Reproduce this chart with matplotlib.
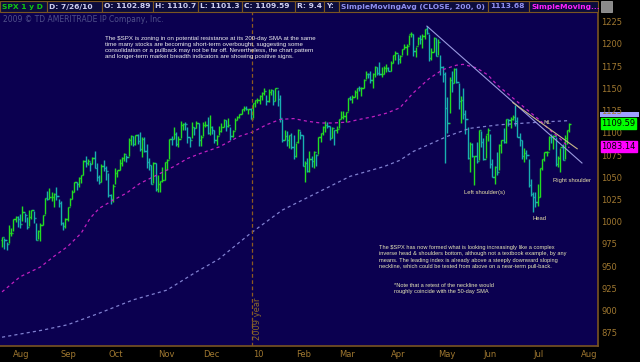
import numpy as np
import matplotlib
matplotlib.use("Agg")
import matplotlib.pyplot as plt
from matplotlib.patches import Rectangle
from matplotlib.transforms import blended_transform_factory

# daily SPX bars, 7/27/09 .. 7/26/10 (one list per month)
close_by_month = [
    [982.2, 979.6, 975.2, 986.8, 987.5],
    [1002.6, 1005.7, 1002.7, 997.1, 1010.5, 1007.1, 994.4, 1005.8, 1012.7, 1004.1, 979.7,
     989.7, 996.5, 1007.4, 1026.1, 1025.6, 1028.0, 1028.1, 1031.0, 1028.9, 1020.6],
    [998.0, 994.8, 1003.2, 1016.4, 1025.4, 1033.4, 1044.1, 1042.7, 1049.3, 1052.6, 1068.8,
     1065.5, 1068.3, 1064.7, 1071.7, 1060.9, 1050.8, 1044.4, 1063.0, 1060.6, 1057.1],
    [1029.9, 1025.2, 1040.5, 1054.7, 1057.6, 1065.5, 1071.5, 1076.2, 1073.2, 1092.0, 1096.6,
     1087.7, 1097.9, 1091.1, 1081.4, 1092.9, 1079.6, 1067.0, 1063.4, 1042.6, 1066.1, 1036.2],
    [1042.9, 1045.4, 1046.5, 1066.6, 1069.3, 1093.1, 1093.0, 1098.5, 1087.2, 1093.5, 1109.3,
     1110.3, 1109.8, 1094.9, 1091.4, 1106.2, 1105.7, 1110.6, 1091.5, 1095.6],
    [1108.9, 1109.2, 1099.9, 1106.0, 1103.3, 1091.9, 1096.0, 1102.4, 1106.4, 1114.1, 1107.9,
     1109.2, 1096.1, 1102.5, 1114.1, 1118.0, 1120.6, 1126.5, 1127.8, 1126.2, 1126.4, 1115.1],
    [1133.0, 1136.5, 1137.1, 1141.7, 1145.0, 1147.0, 1136.2, 1145.7, 1148.5, 1136.0, 1150.2,
     1138.0, 1116.5, 1091.8, 1096.8, 1092.2, 1097.5, 1084.5, 1073.9],
    [1089.2, 1103.3, 1097.3, 1063.1, 1066.2, 1056.7, 1070.5, 1068.1, 1078.5, 1075.5, 1094.9,
     1099.5, 1106.8, 1109.2, 1108.0, 1094.6, 1105.2, 1102.9, 1104.5],
    [1115.7, 1118.3, 1118.8, 1123.0, 1138.7, 1138.5, 1140.5, 1145.6, 1150.2, 1150.0, 1150.5,
     1159.5, 1166.2, 1165.8, 1159.9, 1165.8, 1174.2, 1167.7, 1165.7, 1166.6, 1173.2, 1173.3, 1169.4],
    [1178.1, 1187.4, 1189.4, 1182.5, 1186.4, 1194.4, 1196.5, 1197.3, 1210.7, 1211.7, 1192.1,
     1197.5, 1207.2, 1205.9, 1208.7, 1217.3, 1212.1, 1183.7, 1191.4, 1206.8, 1186.7],
    [1202.3, 1173.6, 1165.9, 1128.2, 1110.9, 1159.7, 1155.8, 1171.7, 1157.4, 1135.7, 1136.9,
     1120.8, 1115.1, 1071.6, 1087.7, 1073.7, 1074.0, 1068.0, 1103.1, 1089.4],
    [1070.7, 1098.4, 1102.8, 1064.9, 1050.5, 1062.0, 1055.7, 1086.8, 1091.6, 1089.6, 1115.2,
     1114.6, 1116.0, 1117.5, 1113.2, 1095.3, 1092.0, 1073.7, 1076.8, 1074.6, 1041.2, 1030.7],
    [1027.4, 1022.6, 1028.1, 1060.3, 1070.3, 1078.0, 1078.8, 1095.3, 1095.2, 1096.5, 1064.9,
     1071.3, 1083.5, 1069.6, 1093.7, 1102.7, 1109.6],
]
high_by_month = [
    [983, 982, 977, 996, 993],
    [1003, 1006, 1006, 1009, 1018, 1010, 1005, 1013, 1013, 1012, 998, 991, 999, 1008, 1027,
     1035, 1038, 1033, 1032, 1039, 1025],
    [1023, 1000, 1004, 1017, 1027, 1036, 1045, 1045, 1050, 1053, 1069, 1074, 1071, 1067, 1073,
     1080, 1066, 1053, 1065, 1069, 1063],
    [1055, 1031, 1042, 1060, 1058, 1071, 1073, 1077, 1075, 1094, 1097, 1096, 1098, 1099, 1101,
     1095, 1095, 1087, 1072, 1064, 1067, 1066],
    [1053, 1046, 1062, 1067, 1071, 1093, 1096, 1106, 1101, 1096, 1113, 1111, 1112, 1106, 1095,
     1112, 1107, 1113, 1111, 1098],
    [1112, 1113, 1118, 1120, 1108, 1103, 1097, 1108, 1111, 1115, 1114, 1117, 1106, 1103, 1117,
     1119, 1121, 1127, 1130, 1130, 1127, 1128],
    [1134, 1137, 1139, 1143, 1146, 1150, 1143, 1149, 1149, 1148, 1150, 1148, 1142, 1115, 1103,
     1102, 1098, 1100, 1097],
    [1089, 1104, 1102, 1097, 1068, 1072, 1080, 1074, 1080, 1076, 1095, 1100, 1108, 1113, 1112,
     1108, 1107, 1103, 1108],
    [1116, 1124, 1125, 1123, 1139, 1141, 1142, 1148, 1150, 1153, 1151, 1161, 1169, 1167, 1170,
     1167, 1175, 1174, 1180, 1174, 1175, 1177, 1174],
    [1181, 1188, 1192, 1189, 1187, 1194, 1200, 1200, 1210, 1213, 1211, 1197, 1208, 1210, 1211,
     1217, 1220, 1211, 1195, 1208, 1207],
    [1205, 1188, 1175, 1168, 1140, 1163, 1170, 1173, 1173, 1156, 1141, 1150, 1126, 1107, 1090,
     1089, 1074, 1090, 1103, 1102],
    [1094, 1098, 1105, 1099, 1070, 1063, 1078, 1087, 1092, 1105, 1115, 1116, 1118, 1120, 1131,
     1118, 1100, 1092, 1083, 1081, 1071, 1048],
    [1033, 1033, 1042, 1060, 1071, 1078, 1080, 1096, 1099, 1097, 1095, 1074, 1083, 1087, 1097,
     1103, 1110.7],
]
low_by_month = [
    [972, 969, 968, 976, 984],
    [990, 1000, 994, 993, 1001, 1000, 992, 995, 1003, 999, 979, 980, 978, 996, 1009, 1024,
     1026, 1023, 1017, 1024, 1017],
    [996, 991, 993, 1001, 1018, 1025, 1033, 1036, 1039, 1043, 1053, 1062, 1064, 1057, 1065,
     1060, 1046, 1042, 1045, 1057, 1047],
    [1028, 1020, 1022, 1042, 1050, 1058, 1063, 1068, 1067, 1074, 1086, 1085, 1086, 1087, 1080,
     1073, 1078, 1060, 1058, 1042, 1043, 1035],
    [1033, 1033, 1045, 1047, 1058, 1071, 1086, 1093, 1085, 1084, 1094, 1103, 1103, 1089, 1084,
     1094, 1097, 1105, 1085, 1085],
    [1096, 1106, 1099, 1097, 1099, 1088, 1086, 1097, 1101, 1106, 1102, 1107, 1092, 1095, 1103,
     1114, 1117, 1121, 1124, 1126, 1121, 1115],
    [1117, 1129, 1134, 1132, 1137, 1142, 1131, 1135, 1142, 1131, 1136, 1130, 1112, 1090, 1092,
     1085, 1083, 1082, 1071],
    [1073, 1089, 1093, 1063, 1045, 1056, 1056, 1062, 1060, 1063, 1076, 1090, 1098, 1101, 1105,
     1092, 1094, 1086, 1100],
    [1105, 1116, 1116, 1112, 1125, 1137, 1133, 1140, 1138, 1147, 1141, 1150, 1160, 1162, 1156,
     1150, 1163, 1165, 1165, 1163, 1166, 1168, 1169],
    [1170, 1178, 1182, 1177, 1179, 1187, 1194, 1188, 1199, 1208, 1186, 1185, 1199, 1200, 1195,
     1206, 1211, 1181, 1182, 1191, 1186],
    [1188, 1165, 1157, 1066, 1100, 1122, 1146, 1156, 1156, 1127, 1111, 1115, 1099, 1071, 1056,
     1073, 1041, 1066, 1069, 1084],
    [1069, 1072, 1091, 1060, 1050, 1042, 1053, 1058, 1077, 1089, 1089, 1108, 1105, 1114, 1108,
     1095, 1085, 1071, 1067, 1071, 1039, 1029],
    [1011, 1016, 1018, 1028, 1058, 1068, 1074, 1081, 1088, 1082, 1063, 1062, 1056, 1069, 1071,
     1087, 1101.3],
]
prev_close = 979.3  # 7/24/09

# moving averages (bar index, value)
sma50_idx = [0, 8, 17, 23, 29, 35, 39, 43, 49, 55, 61, 69, 76, 82, 88, 96, 105, 111, 117, 123,
             129, 135, 141, 146, 153, 158, 164, 170, 176, 182, 189, 195, 201, 204, 210, 215,
             219, 228, 238, 242, 247, 251]
sma50_val = [921, 938, 949, 961, 972, 987, 1004, 1015, 1024, 1032, 1043, 1053, 1062, 1071, 1077,
             1084, 1096, 1101, 1109, 1115, 1116, 1113, 1111, 1111, 1112, 1115, 1118, 1122, 1128,
             1145, 1161, 1171, 1176, 1177, 1173, 1165, 1154, 1135, 1114, 1104, 1093, 1083.14]
sma200_idx = [0, 18, 29, 43, 58, 73, 85, 96, 110, 124, 139, 154, 169, 176, 182, 197, 207, 220,
              238, 251]
sma200_val = [870, 878, 884, 897, 912, 923, 942, 958, 987, 1013, 1032, 1051, 1062, 1069, 1079,
              1096, 1105, 1109, 1112, 1113.68]

# trend lines (bar index, price)
downtrend_idx = [188, 256.6]
downtrend_val = [1220, 1066]
neckline_idx = [226, 254.5]
neckline_val = [1134, 1082]

month_labels = ['Aug', 'Sep', 'Oct', 'Nov', 'Dec', '10', 'Feb', 'Mar', 'Apr', 'May', 'Jun', 'Jul', 'Aug']
month_starts = [5, 26, 47, 69, 89, 111, 130, 149, 172, 193, 213, 235, 256]
year_break = 110.6
price_ticks = [875, 900, 925, 950, 975, 1000, 1025, 1050, 1075, 1100, 1125, 1150, 1175, 1200, 1225]

header = [("SPX 1 y D", 0, 47, '#10c810'), ("D: 7/26/10", 47, 102, '#d0d0f0'),
          ("O: 1102.89", 102, 153, '#d0d0f0'), ("H: 1110.7", 153, 198, '#d0d0f0'),
          ("L: 1101.3", 198, 242, '#d0d0f0'), ("C: 1109.59", 242, 295, '#d0d0f0'),
          ("R: 9.4", 295, 324, '#d0d0f0'), ("Y:", 324, 339, '#d0d0f0'),
          ("SimpleMovingAvg (CLOSE, 200, 0)", 339, 488, '#9090f0'),
          ("1113.68", 488, 529, '#9090f0'), ("SimpleMoving...", 529, 598, '#ff20ff')]

note_top = ("The \\$SPX is zoning in on potential resistance at its 200-day SMA at the same\n"
            "time many stocks are becoming short-term overbought, suggesting some\n"
            "consolidation or a pullback may not be far off. Nevertheless, the chart pattern\n"
            "and longer-term market breadth indicators are showing positive signs.")
note_bottom = ("The \\$SPX has now formed what is looking increasingly like a complex\n"
               "inverse head & shoulders bottom, although not a textbook example, by any\n"
               "means. The leading index is already above a steeply downward sloping\n"
               "neckline, which could be tested from above on a near-term pull-back.")
note_sma = ("*Note that a retest of the neckline would\n"
            "roughly coincide with the 50-day SMA")

close = np.array([v for m in close_by_month for v in m])
high = np.array([v for m in high_by_month for v in m], dtype=float)
low = np.array([v for m in low_by_month for v in m], dtype=float)
opens = np.concatenate([[prev_close], close[:-1]])
x = np.arange(len(close))

W, H = 640, 362
fig = plt.figure(figsize=(W / 100, H / 100), dpi=100, facecolor='black')
ax = fig.add_axes([0, 1 - 346 / H, 598 / W, (346 - 12) / H])
ax.set_facecolor('#0b0050')

brown = '#7a5522'
for s in ['left', 'top']:
    ax.spines[s].set_visible(False)
for s in ['right', 'bottom']:
    ax.spines[s].set_color(brown)
    ax.spines[s].set_linewidth(1.2)

cols = np.where(close >= opens, '#22dd22', '#18b0b0')
ax.vlines(x, low, high, colors=cols, lw=1.0)
ax.hlines(opens, x - 0.55, x, colors=cols, lw=1.0)
ax.hlines(close, x, x + 0.55, colors=cols, lw=1.0)

ax.plot(sma200_idx, sma200_val, color='#8080d0', lw=0.9, dashes=(2.5, 2.5))
ax.plot(sma50_idx, sma50_val, color='#c020c0', lw=0.9, dashes=(2.5, 2.5))
ax.plot(downtrend_idx, downtrend_val, color='#9a9ae0', lw=0.8)
ax.plot(neckline_idx, neckline_val, color='#c8b888', lw=0.8)

ax.axvline(year_break, color='#8c5a20', lw=0.9, dashes=(3, 2))
xt = blended_transform_factory(ax.transData, ax.transAxes)
ax.text(year_break + 2.6, 0.018, "2009 year", rotation=90, ha='center', va='bottom',
        color='#8c6a2a', fontsize=6, transform=xt)

ax.set_xlim(-0.9, 263.7)
ax.set_ylim(860.1, 1235.9)
ax.set_xticks(month_starts, month_labels)
for lab in ax.get_xticklabels():
    lab.set_horizontalalignment('left')
ax.yaxis.tick_right()
ax.set_yticks(price_ticks)
ax.tick_params(axis='x', length=0, pad=3, labelsize=6, labelcolor='#a07830')
ax.tick_params(axis='y', length=0, pad=2.5, labelsize=6, labelcolor='#a07830')

narrow = ['Liberation Sans Narrow', 'Liberation Sans']
ax.text(45.6, 1208.5, note_top, color='#f0f0f0', fontsize=4.4, family=narrow,
        va='top', ha='left', linespacing=1.25)
ax.text(166.8, 973.5, note_bottom, color='#e8e8b8', fontsize=4.1, family=narrow,
        va='top', ha='left', linespacing=1.3)
ax.text(173.5, 931, note_sma, color='#e8e8b8', fontsize=4.1, family=narrow,
        va='top', ha='left', linespacing=1.3)
for txt, xi, yv in [("Left shoulder(s)", 204.4, 1033), ("Head", 234.5, 1003),
                    ("Right shoulder", 243.7, 1046.5)]:
    ax.text(xi, yv, txt, color='#e8e0a8', fontsize=4.2, family=narrow, va='center', ha='left')
ax.text(239.4, 1112, "NL", color='#c8b888', fontsize=4.4, family=narrow, va='center', ha='left')

# right-axis value flags; the 200-day flag sits mostly under the close flag
yt = blended_transform_factory(ax.transAxes, ax.transData)
ax.add_patch(Rectangle((1.003, 1117.5), 0.066, 6.0, transform=yt,
                       fc='#a0a0ff', ec='none', clip_on=False))
ax.text(1.006, 1110.5, "1109.59", color='black', fontsize=6, va='center', ha='left',
        transform=yt, bbox=dict(boxstyle='square,pad=0.08', fc='#00ff00', ec='#00ff00'))
ax.text(1.006, 1085.0, "1083.14", color='black', fontsize=6, va='center', ha='left',
        transform=yt, bbox=dict(boxstyle='square,pad=0.12', fc='#ff00ff', ec='#ff00ff'))

# header strip
for txt, x0, x1, c in header:
    fig.patches.append(Rectangle((x0 / W, 1 - 12 / H), (x1 - x0) / W, 11 / H,
                                 transform=fig.transFigure, fc='#0c0c3c', ec=brown, lw=0.8))
    fig.text((x0 + 2) / W, 1 - 6.5 / H, txt, color=c, fontsize=5.4, weight='bold',
             va='center', ha='left')
fig.patches.append(Rectangle((601 / W, 1 - 12 / H), 11 / W, 11 / H, transform=fig.transFigure,
                             fc='#8a8a8a', ec='#b0b0b0', lw=0.5))
fig.text(3 / W, 1 - 19.5 / H, "2009 \u00a9 TD AMERITRADE IP Company, Inc.", color='#50508a',
         fontsize=5.5, va='center', ha='left')

fig.savefig('out.png', dpi=100, facecolor='black')
